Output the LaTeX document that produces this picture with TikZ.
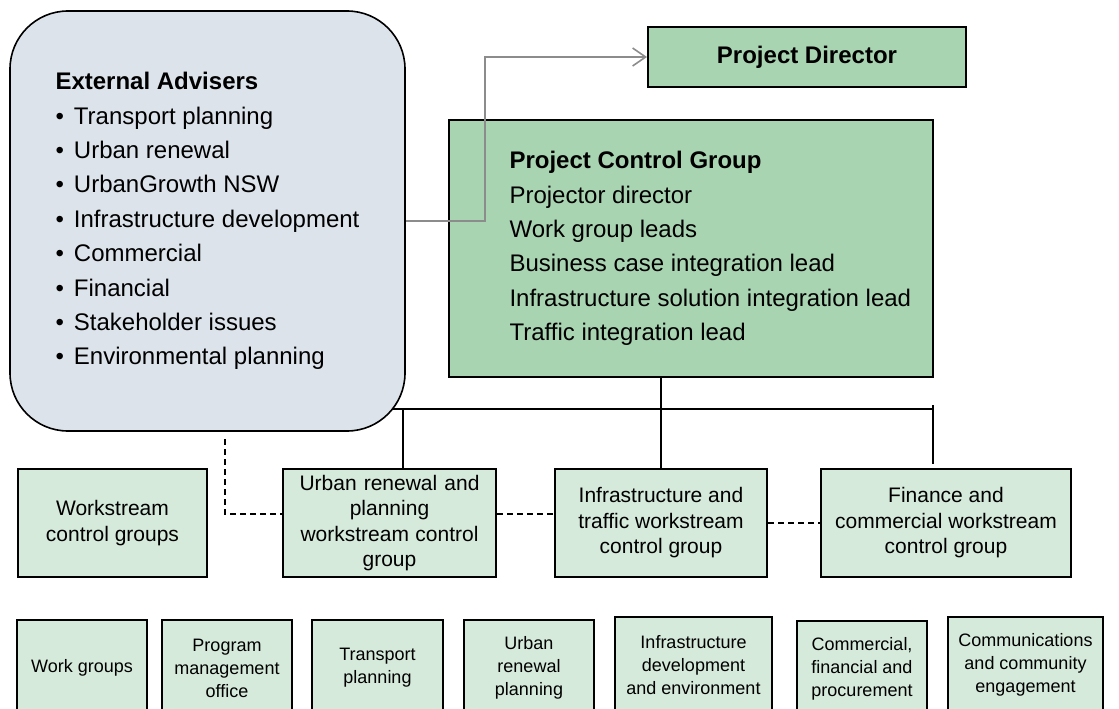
\documentclass[tikz,border=0pt]{standalone}
\usepackage{fontspec}
\setmainfont{Liberation Sans}
\usetikzlibrary{arrows.meta}
\definecolor{advgray}{RGB}{220,227,234}
\definecolor{darkgreen}{RGB}{169,212,178}
\definecolor{lightgreen}{RGB}{213,234,218}
\definecolor{arrowgray}{RGB}{140,140,140}

\begin{document}
\begin{tikzpicture}[x=1pt, y=-1pt,
  bigfont/.style={font=\fontsize{24}{34.4}\selectfont},
  advbox/.style={draw, line width=1.6pt, fill=advgray, rounded corners=58pt, bigfont, align=left},
  leadbox/.style={draw, line width=2pt, fill=darkgreen, inner sep=0pt},
  streambox/.style={draw, line width=2pt, fill=lightgreen, inner sep=0pt, align=center,
    minimum height=108pt, font=\fontsize{21}{25.5}\selectfont},
  groupbox/.style={draw, line width=2pt, fill=lightgreen, inner sep=0pt, align=center,
    minimum height=96pt, font=\fontsize{18}{23}\selectfont},
  solidlink/.style={line width=1.8pt},
  dashlink/.style={line width=1.8pt, dash pattern=on 6pt off 4pt},
  grayarrow/.style={line width=1.6pt, draw=arrowgray, -{Straight Barb[length=13pt, width=18pt]}}]
\useasboundingbox (0,0) rectangle (1119,709);
\clip (0,0) rectangle (1119,709);

% External advisers
\node[advbox, minimum width=395pt, minimum height=420pt] (adv) at (207.5,221) {
\textbf{External Advisers}\\
\textbullet\hspace{10pt}Transport planning\\
\textbullet\hspace{10pt}Urban renewal\\
\textbullet\hspace{10pt}UrbanGrowth NSW\\
\textbullet\hspace{10pt}Infrastructure development\\
\textbullet\hspace{10pt}Commercial\\
\textbullet\hspace{10pt}Financial\\
\textbullet\hspace{10pt}Stakeholder issues\\
\textbullet\hspace{10pt}Environmental planning
};

% Project director
\node[leadbox, minimum width=318pt, minimum height=60pt, bigfont] (pd) at (807,57) {\textbf{Project Director}};

% Project control group
\node[leadbox, minimum width=484pt, minimum height=257pt] (pcg) at (691,248.5) {};
\node[anchor=west, align=left, bigfont] (pcgtext) at ([xshift=58pt]pcg.west) {
\textbf{Project Control Group}\\
Projector director\\
Work group leads\\
Business case integration lead\\
Infrastructure solution integration lead\\
Traffic integration lead
};

% Arrow to director
\coordinate (pdbend) at (485,57);
\draw[grayarrow] (adv.east) -| (pdbend) -- (pd.west);

% Workstream control groups
\node[streambox, minimum width=189pt] (wcg) at (112.5,523) {Workstream\\control groups};
\node[streambox, minimum width=213pt] (urb) at (389.5,523) {
\makebox[180pt][s]{Urban renewal and}\\planning\\\makebox[178pt][s]{workstream control}\\group};
\node[streambox, minimum width=212pt] (infra) at (661,523) {Infrastructure and\\traffic workstream\\control group};
\node[streambox, minimum width=250pt] (fin) at (946,523) {Finance and\\commercial workstream\\control group};

% Bus from the control group
\coordinate (busl) at (393,409);
\coordinate (busr) at (933,409);
\coordinate (tapu) at (403,409);
\coordinate (tapf) at (933,405);
\draw[solidlink] (busl) -- (busr);
\draw[solidlink] (infra.north) -- (infra.north |- pcg.south);
\draw[solidlink] (tapu) -- (tapu |- urb.north);
\draw[solidlink, shorten >=4pt] (tapf) -- (tapf |- fin.north);

% Dashed links
\coordinate (dtop) at (225,439);
\draw[dashlink] (dtop) |- ([yshift=9pt]urb.west);
\draw[dashlink] ([yshift=9pt]urb.east) -- ([yshift=9pt]infra.west);
\draw[dashlink] (infra.east) -- (fin.west);

% Work groups
\node[groupbox, minimum width=130pt] (wg) at (82,668) {Work groups};
\node[groupbox, minimum width=130pt] (pmo) at (227,668) {Program\\management\\office};
\node[groupbox, minimum width=131pt] (tp) at (377.5,668) {Transport\\planning};
\node[groupbox, minimum width=130pt] (urp) at (529,668) {Urban\\renewal\\planning};
\node[groupbox, minimum width=157pt] (ide) at (693.5,665) {Infrastructure\\development\\and environment};
\node[groupbox, minimum width=130pt] (cfp) at (862,669) {Commercial,\\financial and\\procurement};
\node[groupbox, minimum width=155pt] (cce) at (1025.5,665) {Communications\\and community\\engagement};
\end{tikzpicture}
\end{document}
